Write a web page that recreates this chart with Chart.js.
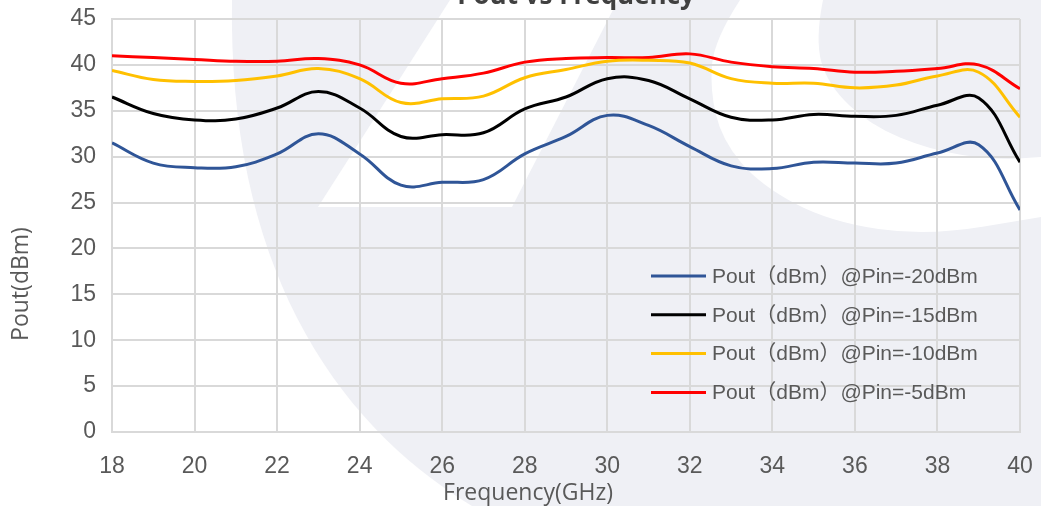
<!DOCTYPE html>
<html>
    <head>
        <title>Pout vs Frequency</title>
        <meta http-equiv="Content-Type" content="text/html; charset=UTF-8">
        <script src="https://cdn.jsdelivr.net/npm/chart.js"></script>
        <style>
            body { margin: 0; background: #fff; }
            #graphe { display: block; }
        </style>
    </head>
    <body>
        <canvas id="graphe" width="1041" height="506"></canvas>

        <script>
            // Mesures : puissance de sortie (dBm) en fonction de la fréquence (GHz)
            const frequences = [18, 19, 20, 21, 22, 23, 24, 25, 26, 27, 28, 29, 30, 31, 32, 33, 34, 35, 36, 37, 38, 39, 40];
            const poutPin20 = [31.5, 29.3, 28.8, 28.9, 30.3, 32.5, 30.3, 26.9, 27.2, 27.5, 30.3, 32.2, 34.5, 33.4, 31.1, 29.0, 28.7, 29.4, 29.3, 29.3, 30.4, 31.3, 24.2];
            const poutPin15 = [36.5, 34.7, 34.0, 34.1, 35.3, 37.1, 35.3, 32.2, 32.4, 32.6, 35.2, 36.5, 38.5, 38.3, 36.3, 34.3, 34.0, 34.6, 34.4, 34.5, 35.6, 36.4, 29.4];
            const poutPin10 = [39.4, 38.4, 38.2, 38.3, 38.8, 39.6, 38.5, 35.9, 36.3, 36.6, 38.6, 39.5, 40.4, 40.5, 40.2, 38.5, 38.0, 38.0, 37.5, 37.8, 38.8, 39.2, 34.3];
            const poutPin5 = [41.0, 40.8, 40.6, 40.4, 40.4, 40.7, 40.0, 38.0, 38.5, 39.1, 40.3, 40.7, 40.8, 40.8, 41.2, 40.3, 39.8, 39.6, 39.2, 39.3, 39.6, 40.0, 37.4];
            const libelles = ['Pout（dBm）@Pin=-20dBm', 'Pout（dBm）@Pin=-15dBm', 'Pout（dBm）@Pin=-10dBm', 'Pout（dBm）@Pin=-5dBm'];
            const couleurs = ['#2f5597', '#000000', '#ffc000', '#ff0000'];

            const titre = 'Pout vs Frequency';
            const titreX = 'Frequency(GHz)';
            const titreY = 'Pout(dBm)';

            const gris = '#eff0f5';
            const texteGris = '#595959';

            function courbe(ctx, pts) {
                ctx.moveTo(pts[0][0], pts[0][1]);
                for (let i = 1; i < pts.length - 1; i++) {
                    const mx = (pts[i][0] + pts[i + 1][0]) / 2;
                    const my = (pts[i][1] + pts[i + 1][1]) / 2;
                    ctx.quadraticCurveTo(pts[i][0], pts[i][1], mx, my);
                }
                const fin = pts[pts.length - 1];
                ctx.lineTo(fin[0], fin[1]);
            }

            // Filigrane du logo en fond + titres et légende
            const filigrane = {
                id: 'filigrane',
                beforeDraw(chart) {
                    const ctx = chart.ctx;
                    const w = chart.width, h = chart.height;
                    ctx.save();
                    ctx.fillStyle = '#ffffff';
                    ctx.fillRect(0, 0, w, h);

                    ctx.fillStyle = gris;
                    ctx.beginPath();
                    ctx.moveTo(232, 0);
                    ctx.bezierCurveTo(228, 260, 330, 420, 472, h);
                    ctx.lineTo(w, h);
                    ctx.lineTo(w, 0);
                    ctx.closePath();
                    ctx.fill();

                    ctx.fillStyle = '#ffffff';
                    ctx.beginPath();
                    ctx.moveTo(450, 0);
                    ctx.lineTo(618, 0);
                    ctx.lineTo(512, 207);
                    ctx.lineTo(318, 207);
                    ctx.closePath();
                    ctx.fill();

                    ctx.beginPath();
                    courbe(ctx, [[740, 0], [714, 40], [710, 90], [722, 140], [760, 185], [830, 222], [927, 236], [1041, 217]]);
                    ctx.lineTo(w, 0);
                    ctx.closePath();
                    ctx.fill();

                    ctx.fillStyle = gris;
                    ctx.beginPath();
                    courbe(ctx, [[823, 0], [815, 40], [828, 85], [870, 125], [930, 150], [995, 160], [1041, 157]]);
                    ctx.lineTo(w, 0);
                    ctx.closePath();
                    ctx.fill();
                    ctx.restore();
                },
                afterDraw(chart) {
                    const ctx = chart.ctx;
                    ctx.save();

                    // titre (coupé en haut)
                    ctx.fillStyle = '#404040';
                    ctx.font = 'bold 26px "Open Sans"';
                    ctx.textAlign = 'center';
                    ctx.textBaseline = 'alphabetic';
                    ctx.fillText(titre, 576, 4);

                    // titres des axes
                    ctx.fillStyle = texteGris;
                    ctx.font = '23px "Open Sans"';
                    ctx.textBaseline = 'middle';
                    ctx.fillText(titreX, 528, 493);
                    ctx.save();
                    ctx.translate(21, 284);
                    ctx.rotate(-Math.PI / 2);
                    ctx.fillText(titreY, 0, 0);
                    ctx.restore();

                    // légende dans la zone du graphique
                    ctx.font = '21px "Liberation Sans", "Noto Sans CJK SC"';
                    ctx.textAlign = 'left';
                    chart.data.datasets.forEach(function (ds, i) {
                        const y = 276 + i * 38.8;
                        ctx.strokeStyle = ds.borderColor;
                        ctx.lineWidth = 3;
                        ctx.beginPath();
                        ctx.moveTo(651, y);
                        ctx.lineTo(706, y);
                        ctx.stroke();
                        ctx.fillStyle = texteGris;
                        ctx.fillText(ds.label, 712, y + 1);
                    });
                    ctx.restore();
                }
            };

            function serie(valeurs, i) {
                return {
                    label: libelles[i],
                    data: frequences.map(function (f, k) { return { x: f, y: valeurs[k] }; }),
                    borderColor: couleurs[i],
                    backgroundColor: couleurs[i],
                    borderWidth: 3,
                    pointRadius: 0,
                    tension: 0.4,
                    fill: false
                };
            }

            const ctx = document.getElementById('graphe').getContext('2d');
            const chart = new Chart(ctx, {
                type: 'line',
                data: {
                    datasets: [serie(poutPin20, 0), serie(poutPin15, 1), serie(poutPin10, 2), serie(poutPin5, 3)]
                },
                options: {
                    responsive: false,
                    animation: false,
                    layout: { padding: { left: 0, top: 19, right: 21, bottom: 0 } },
                    plugins: {
                        legend: { display: false },
                        tooltip: { enabled: false }
                    },
                    scales: {
                        x: {
                            type: 'linear',
                            min: 18,
                            max: 40,
                            ticks: {
                                stepSize: 2,
                                padding: 21,
                                color: texteGris,
                                font: { family: '"Liberation Sans"', size: 23 }
                            },
                            grid: { color: '#d9d9d9', lineWidth: 2, drawTicks: false },
                            border: { color: '#d9d9d9', width: 2 },
                            afterFit: function (scale) {
                                scale.height = 74;
                                scale.paddingLeft = 0;
                                scale.paddingRight = 0;
                            }
                        },
                        y: {
                            min: 0,
                            max: 45,
                            ticks: {
                                stepSize: 5,
                                padding: 16,
                                color: texteGris,
                                font: { family: '"Liberation Sans"', size: 23 }
                            },
                            grid: { color: '#d9d9d9', lineWidth: 2, drawTicks: false },
                            border: { color: '#d9d9d9', width: 2 },
                            afterFit: function (scale) {
                                scale.width = 112;
                                scale.paddingTop = 0;
                                scale.paddingBottom = 0;
                            }
                        }
                    }
                },
                plugins: [filigrane]
            });
        </script>
    </body>
</html>
